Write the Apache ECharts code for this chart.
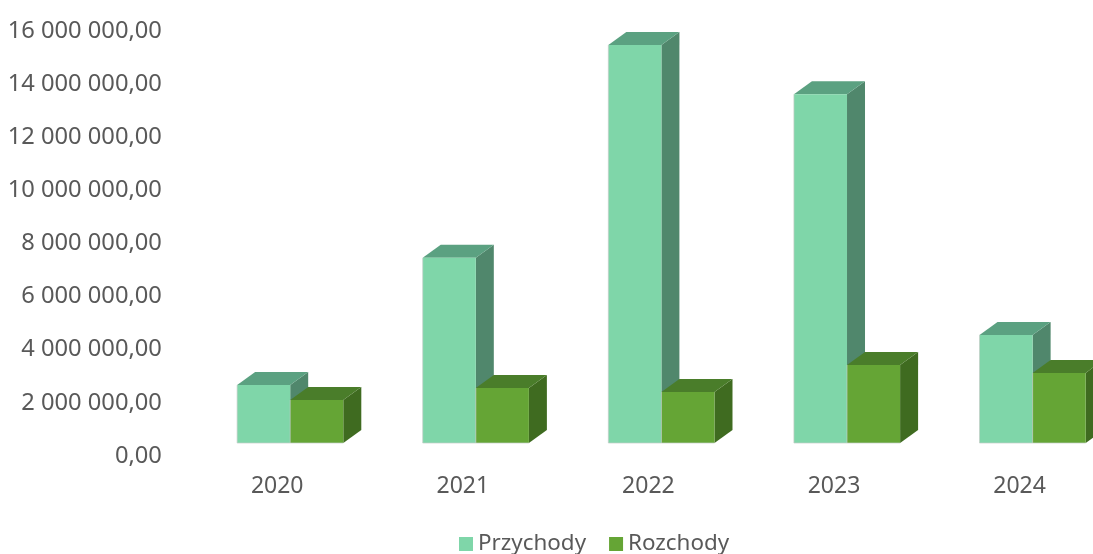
<!DOCTYPE html>
<html><head><meta charset="utf-8">
<style>html,body{margin:0;padding:0;background:#fff}#c{width:1093px;height:554px}</style>
<script src="https://cdn.jsdelivr.net/npm/echarts@6/dist/echarts.min.js"></script>
</head><body><div id="c"></div>
<script>
var years = ['2020','2021','2022','2023','2024'];
var przychody = [2180000, 6970000, 14980000, 13130000, 4070000];
var rozchody = [1620000, 2070000, 1920000, 2940000, 2640000];
var FONT = 'Noto Sans';
var chart = echarts.init(document.getElementById('c'), null, {renderer:'canvas'});
function box(sign, front, top, side){
  return function(params, api){
    var x = api.value(0), v = api.value(1);
    var band = api.size([1,0])[0];
    var w = band*0.286, shift = band*0.0755, lift = 11, dx = 18, dy = 13;
    var p0 = api.coord([x,0]), p1 = api.coord([x,v]);
    var xl = p0[0] + shift + (sign<0 ? -w : 0), xr = xl + w;
    var yb = p0[1] - lift, yt = p1[1] - lift;
    return {type:'group', children:[
      {type:'polygon', shape:{points:[[xr,yt],[xr+dx,yt-dy],[xr+dx,yb-dy],[xr,yb]]}, style:{fill:side}},
      {type:'polygon', shape:{points:[[xl,yt],[xl+dx,yt-dy],[xr+dx,yt-dy],[xr,yt]]}, style:{fill:top}},
      {type:'rect', shape:{x:xl,y:yt,width:w,height:yb-yt}, style:{fill:front}},
      {type:'polyline', shape:{points:[[xl,yt],[xl,yb],[xr,yb]]}, style:{fill:'none', stroke:'rgba(195,205,200,0.7)', lineWidth:1}}
    ]};
  };
}
function toData(a){ return a.map(function(v,i){ return [i,v]; }); }
chart.setOption({
  animation:false,
  backgroundColor:'#fff',
  grid:{left:183.4, top:29, width:928, height:425, containLabel:false, outerBoundsMode:'none'},
  xAxis:{type:'category', data:years, axisLine:{show:false}, axisTick:{show:false}, splitLine:{show:false},
    axisLabel:{color:'#595959', fontFamily:FONT, fontSize:23, margin:21, interval:0, padding:[0,0,0,2]}},
  yAxis:{type:'value', min:0, max:16000000, interval:2000000, axisLine:{show:false}, axisTick:{show:false}, splitLine:{show:false},
    axisLabel:{color:'#595959', fontFamily:FONT, fontSize:23.7, margin:21.5, verticalAlign:'top', lineHeight:4,
      formatter:function(v){ return String(v).replace(/\B(?=(\d{3})+$)/g,' ')+',00'; }}},
  legend:{left:454, top:528, itemGap:23, itemWidth:14, itemHeight:14, icon:'rect',
    textStyle:{color:'#595959', fontFamily:FONT, fontSize:22.4, padding:[0,0,0,0]}, data:['Przychody','Rozchody']},
  series:[
    {name:'Przychody', type:'custom', data:toData(przychody), encode:{x:0,y:1}, itemStyle:{color:'#7FD6A9'},
      renderItem:box(-1,'#7FD6A9','#5BA181','#50876C')},
    {name:'Rozchody', type:'custom', data:toData(rozchody), encode:{x:0,y:1}, itemStyle:{color:'#65A535'},
      renderItem:box(1,'#65A535','#4A7D2A','#3F6B20')}
  ]
});
</script></body></html>
